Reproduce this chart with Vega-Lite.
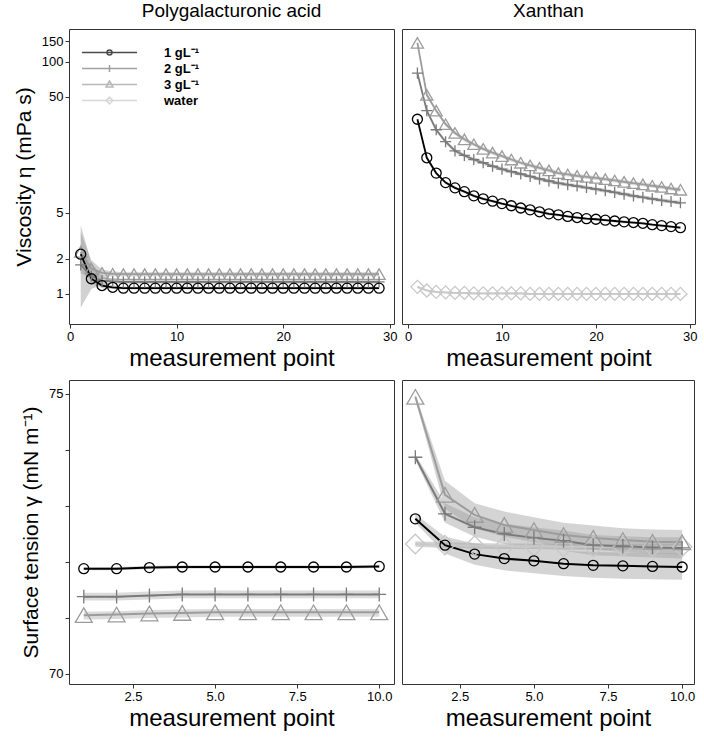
{
  "$schema": "https://vega.github.io/schema/vega-lite/v6.json",
  "background": "white",
  "padding": {"left": 12, "top": 1, "right": 4, "bottom": 3},
  "config": {
    "view": {"stroke": "#333333", "strokeWidth": 1},
    "axis": {"grid": false, "domain": false, "tickColor": "#333333", "tickSize": 4, "labelPadding": 2,
      "labelColor": "#000000", "labelFont": "Liberation Sans", "labelFontSize": 13,
      "titleFont": "Liberation Sans", "titleFontWeight": "normal", "titleColor": "#000000"},
    "axisX": {"titleFontSize": 24, "titlePadding": 3},
    "axisY": {"titleFontSize": 21, "titlePadding": 7},
    "title": {"font": "Liberation Sans", "fontSize": 19, "fontWeight": "normal", "color": "#000000", "anchor": "middle", "offset": 8},
    "concat": {"spacing": 8}
  },
  "datasets": {
    "visc": [
      {"material": "PGA", "conc": "3 gL⁻¹", "point": 1, "value": 2.3, "lo": 1.5, "hi": 3.4},
      {"material": "PGA", "conc": "3 gL⁻¹", "point": 2, "value": 1.65, "lo": 1.4, "hi": 1.95},
      {"material": "PGA", "conc": "3 gL⁻¹", "point": 3, "value": 1.52, "lo": 1.4, "hi": 1.62},
      {"material": "PGA", "conc": "3 gL⁻¹", "point": 4, "value": 1.49, "lo": 1.42, "hi": 1.56},
      {"material": "PGA", "conc": "3 gL⁻¹", "point": 5, "value": 1.48, "lo": 1.42, "hi": 1.54},
      {"material": "PGA", "conc": "3 gL⁻¹", "point": 6, "value": 1.48, "lo": 1.42, "hi": 1.54},
      {"material": "PGA", "conc": "3 gL⁻¹", "point": 7, "value": 1.48, "lo": 1.42, "hi": 1.54},
      {"material": "PGA", "conc": "3 gL⁻¹", "point": 8, "value": 1.48, "lo": 1.42, "hi": 1.54},
      {"material": "PGA", "conc": "3 gL⁻¹", "point": 9, "value": 1.48, "lo": 1.42, "hi": 1.54},
      {"material": "PGA", "conc": "3 gL⁻¹", "point": 10, "value": 1.48, "lo": 1.42, "hi": 1.54},
      {"material": "PGA", "conc": "3 gL⁻¹", "point": 11, "value": 1.48, "lo": 1.42, "hi": 1.54},
      {"material": "PGA", "conc": "3 gL⁻¹", "point": 12, "value": 1.48, "lo": 1.42, "hi": 1.54},
      {"material": "PGA", "conc": "3 gL⁻¹", "point": 13, "value": 1.48, "lo": 1.42, "hi": 1.54},
      {"material": "PGA", "conc": "3 gL⁻¹", "point": 14, "value": 1.48, "lo": 1.42, "hi": 1.54},
      {"material": "PGA", "conc": "3 gL⁻¹", "point": 15, "value": 1.48, "lo": 1.42, "hi": 1.54},
      {"material": "PGA", "conc": "3 gL⁻¹", "point": 16, "value": 1.48, "lo": 1.42, "hi": 1.54},
      {"material": "PGA", "conc": "3 gL⁻¹", "point": 17, "value": 1.48, "lo": 1.42, "hi": 1.54},
      {"material": "PGA", "conc": "3 gL⁻¹", "point": 18, "value": 1.48, "lo": 1.42, "hi": 1.54},
      {"material": "PGA", "conc": "3 gL⁻¹", "point": 19, "value": 1.48, "lo": 1.42, "hi": 1.54},
      {"material": "PGA", "conc": "3 gL⁻¹", "point": 20, "value": 1.48, "lo": 1.42, "hi": 1.54},
      {"material": "PGA", "conc": "3 gL⁻¹", "point": 21, "value": 1.48, "lo": 1.42, "hi": 1.54},
      {"material": "PGA", "conc": "3 gL⁻¹", "point": 22, "value": 1.48, "lo": 1.42, "hi": 1.54},
      {"material": "PGA", "conc": "3 gL⁻¹", "point": 23, "value": 1.48, "lo": 1.42, "hi": 1.54},
      {"material": "PGA", "conc": "3 gL⁻¹", "point": 24, "value": 1.48, "lo": 1.42, "hi": 1.54},
      {"material": "PGA", "conc": "3 gL⁻¹", "point": 25, "value": 1.48, "lo": 1.42, "hi": 1.54},
      {"material": "PGA", "conc": "3 gL⁻¹", "point": 26, "value": 1.48, "lo": 1.42, "hi": 1.54},
      {"material": "PGA", "conc": "3 gL⁻¹", "point": 27, "value": 1.48, "lo": 1.42, "hi": 1.54},
      {"material": "PGA", "conc": "3 gL⁻¹", "point": 28, "value": 1.48, "lo": 1.42, "hi": 1.54},
      {"material": "PGA", "conc": "3 gL⁻¹", "point": 29, "value": 1.48, "lo": 1.42, "hi": 1.54},
      {"material": "PGA", "conc": "2 gL⁻¹", "point": 1, "value": 1.78, "lo": 0.76, "hi": 3.9},
      {"material": "PGA", "conc": "2 gL⁻¹", "point": 2, "value": 1.42, "lo": 1.1, "hi": 1.85},
      {"material": "PGA", "conc": "2 gL⁻¹", "point": 3, "value": 1.3, "lo": 1.2, "hi": 1.42},
      {"material": "PGA", "conc": "2 gL⁻¹", "point": 4, "value": 1.28, "lo": 1.22, "hi": 1.34},
      {"material": "PGA", "conc": "2 gL⁻¹", "point": 5, "value": 1.27, "lo": 1.22, "hi": 1.32},
      {"material": "PGA", "conc": "2 gL⁻¹", "point": 6, "value": 1.27, "lo": 1.22, "hi": 1.32},
      {"material": "PGA", "conc": "2 gL⁻¹", "point": 7, "value": 1.27, "lo": 1.22, "hi": 1.32},
      {"material": "PGA", "conc": "2 gL⁻¹", "point": 8, "value": 1.27, "lo": 1.22, "hi": 1.32},
      {"material": "PGA", "conc": "2 gL⁻¹", "point": 9, "value": 1.27, "lo": 1.22, "hi": 1.32},
      {"material": "PGA", "conc": "2 gL⁻¹", "point": 10, "value": 1.27, "lo": 1.22, "hi": 1.32},
      {"material": "PGA", "conc": "2 gL⁻¹", "point": 11, "value": 1.27, "lo": 1.22, "hi": 1.32},
      {"material": "PGA", "conc": "2 gL⁻¹", "point": 12, "value": 1.27, "lo": 1.22, "hi": 1.32},
      {"material": "PGA", "conc": "2 gL⁻¹", "point": 13, "value": 1.27, "lo": 1.22, "hi": 1.32},
      {"material": "PGA", "conc": "2 gL⁻¹", "point": 14, "value": 1.27, "lo": 1.22, "hi": 1.32},
      {"material": "PGA", "conc": "2 gL⁻¹", "point": 15, "value": 1.27, "lo": 1.22, "hi": 1.32},
      {"material": "PGA", "conc": "2 gL⁻¹", "point": 16, "value": 1.27, "lo": 1.22, "hi": 1.32},
      {"material": "PGA", "conc": "2 gL⁻¹", "point": 17, "value": 1.27, "lo": 1.22, "hi": 1.32},
      {"material": "PGA", "conc": "2 gL⁻¹", "point": 18, "value": 1.27, "lo": 1.22, "hi": 1.32},
      {"material": "PGA", "conc": "2 gL⁻¹", "point": 19, "value": 1.27, "lo": 1.22, "hi": 1.32},
      {"material": "PGA", "conc": "2 gL⁻¹", "point": 20, "value": 1.27, "lo": 1.22, "hi": 1.32},
      {"material": "PGA", "conc": "2 gL⁻¹", "point": 21, "value": 1.27, "lo": 1.22, "hi": 1.32},
      {"material": "PGA", "conc": "2 gL⁻¹", "point": 22, "value": 1.27, "lo": 1.22, "hi": 1.32},
      {"material": "PGA", "conc": "2 gL⁻¹", "point": 23, "value": 1.27, "lo": 1.22, "hi": 1.32},
      {"material": "PGA", "conc": "2 gL⁻¹", "point": 24, "value": 1.27, "lo": 1.22, "hi": 1.32},
      {"material": "PGA", "conc": "2 gL⁻¹", "point": 25, "value": 1.27, "lo": 1.22, "hi": 1.32},
      {"material": "PGA", "conc": "2 gL⁻¹", "point": 26, "value": 1.27, "lo": 1.22, "hi": 1.32},
      {"material": "PGA", "conc": "2 gL⁻¹", "point": 27, "value": 1.27, "lo": 1.22, "hi": 1.32},
      {"material": "PGA", "conc": "2 gL⁻¹", "point": 28, "value": 1.27, "lo": 1.22, "hi": 1.32},
      {"material": "PGA", "conc": "2 gL⁻¹", "point": 29, "value": 1.27, "lo": 1.22, "hi": 1.32},
      {"material": "PGA", "conc": "1 gL⁻¹", "point": 1, "value": 2.2, "lo": 1.8, "hi": 2.7},
      {"material": "PGA", "conc": "1 gL⁻¹", "point": 2, "value": 1.35, "lo": 1.22, "hi": 1.5},
      {"material": "PGA", "conc": "1 gL⁻¹", "point": 3, "value": 1.18, "lo": 1.12, "hi": 1.25},
      {"material": "PGA", "conc": "1 gL⁻¹", "point": 4, "value": 1.14, "lo": 1.1, "hi": 1.18},
      {"material": "PGA", "conc": "1 gL⁻¹", "point": 5, "value": 1.12, "lo": 1.09, "hi": 1.15},
      {"material": "PGA", "conc": "1 gL⁻¹", "point": 6, "value": 1.12, "lo": 1.09, "hi": 1.15},
      {"material": "PGA", "conc": "1 gL⁻¹", "point": 7, "value": 1.12, "lo": 1.09, "hi": 1.15},
      {"material": "PGA", "conc": "1 gL⁻¹", "point": 8, "value": 1.12, "lo": 1.09, "hi": 1.15},
      {"material": "PGA", "conc": "1 gL⁻¹", "point": 9, "value": 1.12, "lo": 1.09, "hi": 1.15},
      {"material": "PGA", "conc": "1 gL⁻¹", "point": 10, "value": 1.12, "lo": 1.09, "hi": 1.15},
      {"material": "PGA", "conc": "1 gL⁻¹", "point": 11, "value": 1.12, "lo": 1.09, "hi": 1.15},
      {"material": "PGA", "conc": "1 gL⁻¹", "point": 12, "value": 1.12, "lo": 1.09, "hi": 1.15},
      {"material": "PGA", "conc": "1 gL⁻¹", "point": 13, "value": 1.12, "lo": 1.09, "hi": 1.15},
      {"material": "PGA", "conc": "1 gL⁻¹", "point": 14, "value": 1.12, "lo": 1.09, "hi": 1.15},
      {"material": "PGA", "conc": "1 gL⁻¹", "point": 15, "value": 1.12, "lo": 1.09, "hi": 1.15},
      {"material": "PGA", "conc": "1 gL⁻¹", "point": 16, "value": 1.12, "lo": 1.09, "hi": 1.15},
      {"material": "PGA", "conc": "1 gL⁻¹", "point": 17, "value": 1.12, "lo": 1.09, "hi": 1.15},
      {"material": "PGA", "conc": "1 gL⁻¹", "point": 18, "value": 1.12, "lo": 1.09, "hi": 1.15},
      {"material": "PGA", "conc": "1 gL⁻¹", "point": 19, "value": 1.12, "lo": 1.09, "hi": 1.15},
      {"material": "PGA", "conc": "1 gL⁻¹", "point": 20, "value": 1.12, "lo": 1.09, "hi": 1.15},
      {"material": "PGA", "conc": "1 gL⁻¹", "point": 21, "value": 1.12, "lo": 1.09, "hi": 1.15},
      {"material": "PGA", "conc": "1 gL⁻¹", "point": 22, "value": 1.12, "lo": 1.09, "hi": 1.15},
      {"material": "PGA", "conc": "1 gL⁻¹", "point": 23, "value": 1.12, "lo": 1.09, "hi": 1.15},
      {"material": "PGA", "conc": "1 gL⁻¹", "point": 24, "value": 1.12, "lo": 1.09, "hi": 1.15},
      {"material": "PGA", "conc": "1 gL⁻¹", "point": 25, "value": 1.12, "lo": 1.09, "hi": 1.15},
      {"material": "PGA", "conc": "1 gL⁻¹", "point": 26, "value": 1.12, "lo": 1.09, "hi": 1.15},
      {"material": "PGA", "conc": "1 gL⁻¹", "point": 27, "value": 1.12, "lo": 1.09, "hi": 1.15},
      {"material": "PGA", "conc": "1 gL⁻¹", "point": 28, "value": 1.12, "lo": 1.09, "hi": 1.15},
      {"material": "PGA", "conc": "1 gL⁻¹", "point": 29, "value": 1.12, "lo": 1.09, "hi": 1.15},
      {"material": "Xanthan", "conc": "water", "point": 1, "value": 1.15, "lo": 1.12, "hi": 1.18},
      {"material": "Xanthan", "conc": "water", "point": 2, "value": 1.07, "lo": 1.05, "hi": 1.09},
      {"material": "Xanthan", "conc": "water", "point": 3, "value": 1.04, "lo": 1.02, "hi": 1.06},
      {"material": "Xanthan", "conc": "water", "point": 4, "value": 1.03, "lo": 1.01, "hi": 1.05},
      {"material": "Xanthan", "conc": "water", "point": 5, "value": 1.02, "lo": 1.0, "hi": 1.04},
      {"material": "Xanthan", "conc": "water", "point": 6, "value": 1.02, "lo": 1.0, "hi": 1.04},
      {"material": "Xanthan", "conc": "water", "point": 7, "value": 1.01, "lo": 0.99, "hi": 1.03},
      {"material": "Xanthan", "conc": "water", "point": 8, "value": 1.01, "lo": 0.99, "hi": 1.03},
      {"material": "Xanthan", "conc": "water", "point": 9, "value": 1.01, "lo": 0.99, "hi": 1.03},
      {"material": "Xanthan", "conc": "water", "point": 10, "value": 1.01, "lo": 0.99, "hi": 1.03},
      {"material": "Xanthan", "conc": "water", "point": 11, "value": 1.01, "lo": 0.99, "hi": 1.03},
      {"material": "Xanthan", "conc": "water", "point": 12, "value": 1.01, "lo": 0.99, "hi": 1.03},
      {"material": "Xanthan", "conc": "water", "point": 13, "value": 1.0, "lo": 0.98, "hi": 1.02},
      {"material": "Xanthan", "conc": "water", "point": 14, "value": 1.0, "lo": 0.98, "hi": 1.02},
      {"material": "Xanthan", "conc": "water", "point": 15, "value": 1.0, "lo": 0.98, "hi": 1.02},
      {"material": "Xanthan", "conc": "water", "point": 16, "value": 1.0, "lo": 0.98, "hi": 1.02},
      {"material": "Xanthan", "conc": "water", "point": 17, "value": 1.0, "lo": 0.98, "hi": 1.02},
      {"material": "Xanthan", "conc": "water", "point": 18, "value": 1.0, "lo": 0.98, "hi": 1.02},
      {"material": "Xanthan", "conc": "water", "point": 19, "value": 1.0, "lo": 0.98, "hi": 1.02},
      {"material": "Xanthan", "conc": "water", "point": 20, "value": 1.0, "lo": 0.98, "hi": 1.02},
      {"material": "Xanthan", "conc": "water", "point": 21, "value": 1.0, "lo": 0.98, "hi": 1.02},
      {"material": "Xanthan", "conc": "water", "point": 22, "value": 1.0, "lo": 0.98, "hi": 1.02},
      {"material": "Xanthan", "conc": "water", "point": 23, "value": 1.0, "lo": 0.98, "hi": 1.02},
      {"material": "Xanthan", "conc": "water", "point": 24, "value": 1.0, "lo": 0.98, "hi": 1.02},
      {"material": "Xanthan", "conc": "water", "point": 25, "value": 1.0, "lo": 0.98, "hi": 1.02},
      {"material": "Xanthan", "conc": "water", "point": 26, "value": 1.0, "lo": 0.98, "hi": 1.02},
      {"material": "Xanthan", "conc": "water", "point": 27, "value": 1.0, "lo": 0.98, "hi": 1.02},
      {"material": "Xanthan", "conc": "water", "point": 28, "value": 1.0, "lo": 0.98, "hi": 1.02},
      {"material": "Xanthan", "conc": "water", "point": 29, "value": 1.0, "lo": 0.98, "hi": 1.02},
      {"material": "Xanthan", "conc": "3 gL⁻¹", "point": 1, "value": 146, "lo": 140.2, "hi": 151.8},
      {"material": "Xanthan", "conc": "3 gL⁻¹", "point": 2, "value": 52, "lo": 49.9, "hi": 54.1},
      {"material": "Xanthan", "conc": "3 gL⁻¹", "point": 3, "value": 38, "lo": 36.5, "hi": 39.5},
      {"material": "Xanthan", "conc": "3 gL⁻¹", "point": 4, "value": 29, "lo": 27.8, "hi": 30.2},
      {"material": "Xanthan", "conc": "3 gL⁻¹", "point": 5, "value": 24.4, "lo": 23.4, "hi": 25.4},
      {"material": "Xanthan", "conc": "3 gL⁻¹", "point": 6, "value": 21.5, "lo": 20.6, "hi": 22.4},
      {"material": "Xanthan", "conc": "3 gL⁻¹", "point": 7, "value": 19.5, "lo": 18.7, "hi": 20.3},
      {"material": "Xanthan", "conc": "3 gL⁻¹", "point": 8, "value": 17.8, "lo": 17.1, "hi": 18.5},
      {"material": "Xanthan", "conc": "3 gL⁻¹", "point": 9, "value": 16.5, "lo": 15.8, "hi": 17.2},
      {"material": "Xanthan", "conc": "3 gL⁻¹", "point": 10, "value": 15.4, "lo": 14.8, "hi": 16.0},
      {"material": "Xanthan", "conc": "3 gL⁻¹", "point": 11, "value": 14.4, "lo": 13.8, "hi": 15.0},
      {"material": "Xanthan", "conc": "3 gL⁻¹", "point": 12, "value": 13.5, "lo": 13.0, "hi": 14.0},
      {"material": "Xanthan", "conc": "3 gL⁻¹", "point": 13, "value": 12.8, "lo": 12.3, "hi": 13.3},
      {"material": "Xanthan", "conc": "3 gL⁻¹", "point": 14, "value": 12.2, "lo": 11.7, "hi": 12.7},
      {"material": "Xanthan", "conc": "3 gL⁻¹", "point": 15, "value": 11.6, "lo": 11.1, "hi": 12.1},
      {"material": "Xanthan", "conc": "3 gL⁻¹", "point": 16, "value": 11.0, "lo": 10.6, "hi": 11.4},
      {"material": "Xanthan", "conc": "3 gL⁻¹", "point": 17, "value": 10.7, "lo": 10.3, "hi": 11.1},
      {"material": "Xanthan", "conc": "3 gL⁻¹", "point": 18, "value": 10.4, "lo": 10.0, "hi": 10.8},
      {"material": "Xanthan", "conc": "3 gL⁻¹", "point": 19, "value": 10.2, "lo": 9.8, "hi": 10.6},
      {"material": "Xanthan", "conc": "3 gL⁻¹", "point": 20, "value": 10.0, "lo": 9.6, "hi": 10.4},
      {"material": "Xanthan", "conc": "3 gL⁻¹", "point": 21, "value": 9.75, "lo": 9.36, "hi": 10.14},
      {"material": "Xanthan", "conc": "3 gL⁻¹", "point": 22, "value": 9.5, "lo": 9.12, "hi": 9.88},
      {"material": "Xanthan", "conc": "3 gL⁻¹", "point": 23, "value": 9.25, "lo": 8.88, "hi": 9.62},
      {"material": "Xanthan", "conc": "3 gL⁻¹", "point": 24, "value": 9.0, "lo": 8.64, "hi": 9.36},
      {"material": "Xanthan", "conc": "3 gL⁻¹", "point": 25, "value": 8.8, "lo": 8.45, "hi": 9.15},
      {"material": "Xanthan", "conc": "3 gL⁻¹", "point": 26, "value": 8.55, "lo": 8.21, "hi": 8.89},
      {"material": "Xanthan", "conc": "3 gL⁻¹", "point": 27, "value": 8.35, "lo": 8.02, "hi": 8.68},
      {"material": "Xanthan", "conc": "3 gL⁻¹", "point": 28, "value": 8.1, "lo": 7.78, "hi": 8.42},
      {"material": "Xanthan", "conc": "3 gL⁻¹", "point": 29, "value": 7.9, "lo": 7.58, "hi": 8.22},
      {"material": "Xanthan", "conc": "2 gL⁻¹", "point": 1, "value": 80, "lo": 76.8, "hi": 83.2},
      {"material": "Xanthan", "conc": "2 gL⁻¹", "point": 2, "value": 38, "lo": 36.5, "hi": 39.5},
      {"material": "Xanthan", "conc": "2 gL⁻¹", "point": 3, "value": 26, "lo": 25.0, "hi": 27.0},
      {"material": "Xanthan", "conc": "2 gL⁻¹", "point": 4, "value": 20.5, "lo": 19.7, "hi": 21.3},
      {"material": "Xanthan", "conc": "2 gL⁻¹", "point": 5, "value": 17.1, "lo": 16.4, "hi": 17.8},
      {"material": "Xanthan", "conc": "2 gL⁻¹", "point": 6, "value": 15.6, "lo": 15.0, "hi": 16.2},
      {"material": "Xanthan", "conc": "2 gL⁻¹", "point": 7, "value": 14.4, "lo": 13.8, "hi": 15.0},
      {"material": "Xanthan", "conc": "2 gL⁻¹", "point": 8, "value": 13.5, "lo": 13.0, "hi": 14.0},
      {"material": "Xanthan", "conc": "2 gL⁻¹", "point": 9, "value": 12.6, "lo": 12.1, "hi": 13.1},
      {"material": "Xanthan", "conc": "2 gL⁻¹", "point": 10, "value": 11.9, "lo": 11.4, "hi": 12.4},
      {"material": "Xanthan", "conc": "2 gL⁻¹", "point": 11, "value": 11.3, "lo": 10.8, "hi": 11.8},
      {"material": "Xanthan", "conc": "2 gL⁻¹", "point": 12, "value": 10.8, "lo": 10.4, "hi": 11.2},
      {"material": "Xanthan", "conc": "2 gL⁻¹", "point": 13, "value": 10.3, "lo": 9.9, "hi": 10.7},
      {"material": "Xanthan", "conc": "2 gL⁻¹", "point": 14, "value": 9.8, "lo": 9.4, "hi": 10.2},
      {"material": "Xanthan", "conc": "2 gL⁻¹", "point": 15, "value": 9.4, "lo": 9.0, "hi": 9.8},
      {"material": "Xanthan", "conc": "2 gL⁻¹", "point": 16, "value": 9.0, "lo": 8.64, "hi": 9.36},
      {"material": "Xanthan", "conc": "2 gL⁻¹", "point": 17, "value": 8.75, "lo": 8.4, "hi": 9.1},
      {"material": "Xanthan", "conc": "2 gL⁻¹", "point": 18, "value": 8.5, "lo": 8.16, "hi": 8.84},
      {"material": "Xanthan", "conc": "2 gL⁻¹", "point": 19, "value": 8.25, "lo": 7.92, "hi": 8.58},
      {"material": "Xanthan", "conc": "2 gL⁻¹", "point": 20, "value": 8.0, "lo": 7.68, "hi": 8.32},
      {"material": "Xanthan", "conc": "2 gL⁻¹", "point": 21, "value": 7.75, "lo": 7.44, "hi": 8.06},
      {"material": "Xanthan", "conc": "2 gL⁻¹", "point": 22, "value": 7.5, "lo": 7.2, "hi": 7.8},
      {"material": "Xanthan", "conc": "2 gL⁻¹", "point": 23, "value": 7.25, "lo": 6.96, "hi": 7.54},
      {"material": "Xanthan", "conc": "2 gL⁻¹", "point": 24, "value": 7.0, "lo": 6.72, "hi": 7.28},
      {"material": "Xanthan", "conc": "2 gL⁻¹", "point": 25, "value": 6.8, "lo": 6.53, "hi": 7.07},
      {"material": "Xanthan", "conc": "2 gL⁻¹", "point": 26, "value": 6.6, "lo": 6.34, "hi": 6.86},
      {"material": "Xanthan", "conc": "2 gL⁻¹", "point": 27, "value": 6.4, "lo": 6.14, "hi": 6.66},
      {"material": "Xanthan", "conc": "2 gL⁻¹", "point": 28, "value": 6.25, "lo": 6.0, "hi": 6.5},
      {"material": "Xanthan", "conc": "2 gL⁻¹", "point": 29, "value": 6.1, "lo": 5.86, "hi": 6.34},
      {"material": "Xanthan", "conc": "1 gL⁻¹", "point": 1, "value": 32, "lo": 31.0, "hi": 33.0},
      {"material": "Xanthan", "conc": "1 gL⁻¹", "point": 2, "value": 14.9, "lo": 14.5, "hi": 15.3},
      {"material": "Xanthan", "conc": "1 gL⁻¹", "point": 3, "value": 11, "lo": 10.7, "hi": 11.3},
      {"material": "Xanthan", "conc": "1 gL⁻¹", "point": 4, "value": 9.1, "lo": 8.8, "hi": 9.4},
      {"material": "Xanthan", "conc": "1 gL⁻¹", "point": 5, "value": 8.2, "lo": 7.95, "hi": 8.45},
      {"material": "Xanthan", "conc": "1 gL⁻¹", "point": 6, "value": 7.6, "lo": 7.37, "hi": 7.83},
      {"material": "Xanthan", "conc": "1 gL⁻¹", "point": 7, "value": 7.0, "lo": 6.79, "hi": 7.21},
      {"material": "Xanthan", "conc": "1 gL⁻¹", "point": 8, "value": 6.6, "lo": 6.4, "hi": 6.8},
      {"material": "Xanthan", "conc": "1 gL⁻¹", "point": 9, "value": 6.3, "lo": 6.11, "hi": 6.49},
      {"material": "Xanthan", "conc": "1 gL⁻¹", "point": 10, "value": 6.0, "lo": 5.82, "hi": 6.18},
      {"material": "Xanthan", "conc": "1 gL⁻¹", "point": 11, "value": 5.75, "lo": 5.58, "hi": 5.92},
      {"material": "Xanthan", "conc": "1 gL⁻¹", "point": 12, "value": 5.5, "lo": 5.34, "hi": 5.67},
      {"material": "Xanthan", "conc": "1 gL⁻¹", "point": 13, "value": 5.3, "lo": 5.14, "hi": 5.46},
      {"material": "Xanthan", "conc": "1 gL⁻¹", "point": 14, "value": 5.1, "lo": 4.95, "hi": 5.25},
      {"material": "Xanthan", "conc": "1 gL⁻¹", "point": 15, "value": 4.9, "lo": 4.75, "hi": 5.05},
      {"material": "Xanthan", "conc": "1 gL⁻¹", "point": 16, "value": 4.8, "lo": 4.66, "hi": 4.94},
      {"material": "Xanthan", "conc": "1 gL⁻¹", "point": 17, "value": 4.65, "lo": 4.51, "hi": 4.79},
      {"material": "Xanthan", "conc": "1 gL⁻¹", "point": 18, "value": 4.55, "lo": 4.41, "hi": 4.69},
      {"material": "Xanthan", "conc": "1 gL⁻¹", "point": 19, "value": 4.45, "lo": 4.32, "hi": 4.58},
      {"material": "Xanthan", "conc": "1 gL⁻¹", "point": 20, "value": 4.4, "lo": 4.27, "hi": 4.53},
      {"material": "Xanthan", "conc": "1 gL⁻¹", "point": 21, "value": 4.32, "lo": 4.19, "hi": 4.45},
      {"material": "Xanthan", "conc": "1 gL⁻¹", "point": 22, "value": 4.25, "lo": 4.12, "hi": 4.38},
      {"material": "Xanthan", "conc": "1 gL⁻¹", "point": 23, "value": 4.18, "lo": 4.05, "hi": 4.31},
      {"material": "Xanthan", "conc": "1 gL⁻¹", "point": 24, "value": 4.12, "lo": 4.0, "hi": 4.24},
      {"material": "Xanthan", "conc": "1 gL⁻¹", "point": 25, "value": 4.06, "lo": 3.94, "hi": 4.18},
      {"material": "Xanthan", "conc": "1 gL⁻¹", "point": 26, "value": 3.95, "lo": 3.83, "hi": 4.07},
      {"material": "Xanthan", "conc": "1 gL⁻¹", "point": 27, "value": 3.88, "lo": 3.76, "hi": 4.0},
      {"material": "Xanthan", "conc": "1 gL⁻¹", "point": 28, "value": 3.8, "lo": 3.69, "hi": 3.91},
      {"material": "Xanthan", "conc": "1 gL⁻¹", "point": 29, "value": 3.72, "lo": 3.61, "hi": 3.83}
    ],
    "tension": [
      {"material": "PGA", "conc": "3 gL⁻¹", "point": 1, "value": 71.05, "lo": 70.97, "hi": 71.11},
      {"material": "PGA", "conc": "3 gL⁻¹", "point": 2, "value": 71.06, "lo": 70.98, "hi": 71.12},
      {"material": "PGA", "conc": "3 gL⁻¹", "point": 3, "value": 71.08, "lo": 71.0, "hi": 71.14},
      {"material": "PGA", "conc": "3 gL⁻¹", "point": 4, "value": 71.09, "lo": 71.01, "hi": 71.15},
      {"material": "PGA", "conc": "3 gL⁻¹", "point": 5, "value": 71.1, "lo": 71.02, "hi": 71.16},
      {"material": "PGA", "conc": "3 gL⁻¹", "point": 6, "value": 71.1, "lo": 71.02, "hi": 71.16},
      {"material": "PGA", "conc": "3 gL⁻¹", "point": 7, "value": 71.1, "lo": 71.02, "hi": 71.16},
      {"material": "PGA", "conc": "3 gL⁻¹", "point": 8, "value": 71.1, "lo": 71.02, "hi": 71.16},
      {"material": "PGA", "conc": "3 gL⁻¹", "point": 9, "value": 71.1, "lo": 71.02, "hi": 71.16},
      {"material": "PGA", "conc": "3 gL⁻¹", "point": 10, "value": 71.1, "lo": 71.02, "hi": 71.16},
      {"material": "PGA", "conc": "2 gL⁻¹", "point": 1, "value": 71.38, "lo": 71.31, "hi": 71.45},
      {"material": "PGA", "conc": "2 gL⁻¹", "point": 2, "value": 71.38, "lo": 71.31, "hi": 71.45},
      {"material": "PGA", "conc": "2 gL⁻¹", "point": 3, "value": 71.4, "lo": 71.33, "hi": 71.47},
      {"material": "PGA", "conc": "2 gL⁻¹", "point": 4, "value": 71.42, "lo": 71.35, "hi": 71.49},
      {"material": "PGA", "conc": "2 gL⁻¹", "point": 5, "value": 71.42, "lo": 71.35, "hi": 71.49},
      {"material": "PGA", "conc": "2 gL⁻¹", "point": 6, "value": 71.42, "lo": 71.35, "hi": 71.49},
      {"material": "PGA", "conc": "2 gL⁻¹", "point": 7, "value": 71.42, "lo": 71.35, "hi": 71.49},
      {"material": "PGA", "conc": "2 gL⁻¹", "point": 8, "value": 71.42, "lo": 71.35, "hi": 71.49},
      {"material": "PGA", "conc": "2 gL⁻¹", "point": 9, "value": 71.42, "lo": 71.35, "hi": 71.49},
      {"material": "PGA", "conc": "2 gL⁻¹", "point": 10, "value": 71.42, "lo": 71.35, "hi": 71.49},
      {"material": "PGA", "conc": "1 gL⁻¹", "point": 1, "value": 71.88, "lo": 71.85, "hi": 71.91},
      {"material": "PGA", "conc": "1 gL⁻¹", "point": 2, "value": 71.88, "lo": 71.85, "hi": 71.91},
      {"material": "PGA", "conc": "1 gL⁻¹", "point": 3, "value": 71.9, "lo": 71.87, "hi": 71.93},
      {"material": "PGA", "conc": "1 gL⁻¹", "point": 4, "value": 71.91, "lo": 71.88, "hi": 71.94},
      {"material": "PGA", "conc": "1 gL⁻¹", "point": 5, "value": 71.91, "lo": 71.88, "hi": 71.94},
      {"material": "PGA", "conc": "1 gL⁻¹", "point": 6, "value": 71.91, "lo": 71.88, "hi": 71.94},
      {"material": "PGA", "conc": "1 gL⁻¹", "point": 7, "value": 71.91, "lo": 71.88, "hi": 71.94},
      {"material": "PGA", "conc": "1 gL⁻¹", "point": 8, "value": 71.91, "lo": 71.88, "hi": 71.94},
      {"material": "PGA", "conc": "1 gL⁻¹", "point": 9, "value": 71.91, "lo": 71.88, "hi": 71.94},
      {"material": "PGA", "conc": "1 gL⁻¹", "point": 10, "value": 71.92, "lo": 71.89, "hi": 71.95},
      {"material": "Xanthan", "conc": "water", "point": 1, "value": 72.32, "lo": 72.27, "hi": 72.37},
      {"material": "Xanthan", "conc": "water", "point": 2, "value": 72.3, "lo": 72.25, "hi": 72.35},
      {"material": "Xanthan", "conc": "water", "point": 3, "value": 72.29, "lo": 72.24, "hi": 72.34},
      {"material": "Xanthan", "conc": "water", "point": 4, "value": 72.28, "lo": 72.23, "hi": 72.33},
      {"material": "Xanthan", "conc": "water", "point": 5, "value": 72.28, "lo": 72.23, "hi": 72.33},
      {"material": "Xanthan", "conc": "water", "point": 6, "value": 72.27, "lo": 72.22, "hi": 72.32},
      {"material": "Xanthan", "conc": "water", "point": 7, "value": 72.27, "lo": 72.22, "hi": 72.32},
      {"material": "Xanthan", "conc": "water", "point": 8, "value": 72.27, "lo": 72.22, "hi": 72.32},
      {"material": "Xanthan", "conc": "water", "point": 9, "value": 72.27, "lo": 72.22, "hi": 72.32},
      {"material": "Xanthan", "conc": "water", "point": 10, "value": 72.27, "lo": 72.22, "hi": 72.32},
      {"material": "Xanthan", "conc": "3 gL⁻¹", "point": 1, "value": 74.95, "lo": 74.9, "hi": 75.0},
      {"material": "Xanthan", "conc": "3 gL⁻¹", "point": 2, "value": 73.2, "lo": 72.95, "hi": 73.45},
      {"material": "Xanthan", "conc": "3 gL⁻¹", "point": 3, "value": 72.84, "lo": 72.6, "hi": 73.05},
      {"material": "Xanthan", "conc": "3 gL⁻¹", "point": 4, "value": 72.66, "lo": 72.45, "hi": 72.9},
      {"material": "Xanthan", "conc": "3 gL⁻¹", "point": 5, "value": 72.57, "lo": 72.35, "hi": 72.8},
      {"material": "Xanthan", "conc": "3 gL⁻¹", "point": 6, "value": 72.48, "lo": 72.27, "hi": 72.7},
      {"material": "Xanthan", "conc": "3 gL⁻¹", "point": 7, "value": 72.43, "lo": 72.22, "hi": 72.65},
      {"material": "Xanthan", "conc": "3 gL⁻¹", "point": 8, "value": 72.39, "lo": 72.18, "hi": 72.6},
      {"material": "Xanthan", "conc": "3 gL⁻¹", "point": 9, "value": 72.36, "lo": 72.15, "hi": 72.58},
      {"material": "Xanthan", "conc": "3 gL⁻¹", "point": 10, "value": 72.35, "lo": 72.13, "hi": 72.57},
      {"material": "Xanthan", "conc": "2 gL⁻¹", "point": 1, "value": 73.87, "lo": 73.82, "hi": 73.92},
      {"material": "Xanthan", "conc": "2 gL⁻¹", "point": 2, "value": 72.86, "lo": 72.7, "hi": 73.05},
      {"material": "Xanthan", "conc": "2 gL⁻¹", "point": 3, "value": 72.62, "lo": 72.45, "hi": 72.8},
      {"material": "Xanthan", "conc": "2 gL⁻¹", "point": 4, "value": 72.5, "lo": 72.32, "hi": 72.68},
      {"material": "Xanthan", "conc": "2 gL⁻¹", "point": 5, "value": 72.43, "lo": 72.25, "hi": 72.62},
      {"material": "Xanthan", "conc": "2 gL⁻¹", "point": 6, "value": 72.38, "lo": 72.2, "hi": 72.56},
      {"material": "Xanthan", "conc": "2 gL⁻¹", "point": 7, "value": 72.3, "lo": 72.12, "hi": 72.48},
      {"material": "Xanthan", "conc": "2 gL⁻¹", "point": 8, "value": 72.28, "lo": 72.1, "hi": 72.46},
      {"material": "Xanthan", "conc": "2 gL⁻¹", "point": 9, "value": 72.26, "lo": 72.08, "hi": 72.44},
      {"material": "Xanthan", "conc": "2 gL⁻¹", "point": 10, "value": 72.25, "lo": 72.06, "hi": 72.44},
      {"material": "Xanthan", "conc": "1 gL⁻¹", "point": 1, "value": 72.77, "lo": 72.7, "hi": 72.85},
      {"material": "Xanthan", "conc": "1 gL⁻¹", "point": 2, "value": 72.3, "lo": 72.15, "hi": 72.45},
      {"material": "Xanthan", "conc": "1 gL⁻¹", "point": 3, "value": 72.14, "lo": 71.95, "hi": 72.33},
      {"material": "Xanthan", "conc": "1 gL⁻¹", "point": 4, "value": 72.06, "lo": 71.85, "hi": 72.27},
      {"material": "Xanthan", "conc": "1 gL⁻¹", "point": 5, "value": 72.02, "lo": 71.8, "hi": 72.25},
      {"material": "Xanthan", "conc": "1 gL⁻¹", "point": 6, "value": 71.97, "lo": 71.75, "hi": 72.2},
      {"material": "Xanthan", "conc": "1 gL⁻¹", "point": 7, "value": 71.94, "lo": 71.72, "hi": 72.18},
      {"material": "Xanthan", "conc": "1 gL⁻¹", "point": 8, "value": 71.93, "lo": 71.7, "hi": 72.17},
      {"material": "Xanthan", "conc": "1 gL⁻¹", "point": 9, "value": 71.92, "lo": 71.69, "hi": 72.16},
      {"material": "Xanthan", "conc": "1 gL⁻¹", "point": 10, "value": 71.91, "lo": 71.68, "hi": 72.15}
    ]
  },
  "resolve": {"scale": {"size": "independent"}},
  "vconcat": [
    {
      "bounds": "flush",
      "hconcat": [
        {
          "width": 325, "height": 295,
          "title": "Polygalacturonic acid",
          "data": {"name": "visc"},
          "transform": [{"filter": "datum.material === 'PGA'"}],
          "encoding": {
            "x": {"field": "point", "type": "quantitative", "title": "measurement point",
              "scale": {"domain": [-0.1, 30.4], "nice": false, "zero": false},
              "axis": {"values": [0, 10, 20, 30]}},
            "y": {"field": "value", "type": "quantitative", "title": "Viscosity η (mPa s)",
              "scale": {"type": "log", "domain": [0.55, 192], "nice": false},
              "axis": {"values": [1, 2, 5, 50, 100, 150]}}
          },
          "layer": [
            {"mark": {"type": "area", "color": "#9a9a9a", "opacity": 0.45},
              "encoding": {"y": {"field": "lo", "type": "quantitative", "title": "Viscosity η (mPa s)"}, "y2": {"field": "hi"}, "detail": {"field": "conc"}}},
            {"mark": {"type": "line", "strokeWidth": 1.8},
              "encoding": {
                "color": {"field": "conc", "type": "nominal",
                  "scale": {"domain": ["1 gL⁻¹", "2 gL⁻¹", "3 gL⁻¹", "water"], "range": ["#000000", "#7a7a7a", "#9c9c9c", "#c8c8c8"]},
                  "legend": {"orient": "none", "legendX": 34, "legendY": 17, "title": null,
                    "labelFont": "Liberation Sans", "labelFontSize": 13, "labelFontWeight": "bold", "labelColor": "#000000",
                    "symbolSize": 100, "symbolStrokeWidth": 1.5, "symbolOpacity": 0.7, "labelOffset": 48, "rowPadding": 2,
                    "encoding": {
                      "symbols": {
                        "fill": {"value": "transparent"},
                        "shape": {"value": {"expr": "datum.value === '1 gL⁻¹' ? 'M-5.5,0H5.5M-0.5,0A0.5,0.5 0 1,0 0.5,0A0.5,0.5 0 1,0 -0.5,0' : datum.value === '2 gL⁻¹' ? 'M-5.5,0H5.5M0,-0.7V0.7' : datum.value === '3 gL⁻¹' ? 'M-5.5,0H5.5M0,-0.7L0.7,0.5L-0.7,0.5Z' : 'M-5.5,0H5.5M0,-0.7L0.7,0L0,0.7L-0.7,0Z'"}}
                      }
                    }
                  }
                }
              }
            },
            {"mark": {"type": "point", "filled": false, "strokeWidth": 1.3, "opacity": 1},
              "encoding": {
                "size": {"field": "conc", "type": "nominal", "legend": null,
                  "scale": {"range": [100, 170, 170, 190]}},
                "color": {"field": "conc", "type": "nominal",
                  "legend": {"orient": "none", "legendX": 34, "legendY": 17, "title": null,
                    "labelFont": "Liberation Sans", "labelFontSize": 13, "labelFontWeight": "bold", "labelColor": "#000000",
                    "symbolSize": 100, "symbolStrokeWidth": 1.5, "symbolOpacity": 0.7, "labelOffset": 48, "rowPadding": 2,
                    "encoding": {
                      "symbols": {
                        "fill": {"value": "transparent"},
                        "shape": {"value": {"expr": "datum.value === '1 gL⁻¹' ? 'M-5.5,0H5.5M-0.5,0A0.5,0.5 0 1,0 0.5,0A0.5,0.5 0 1,0 -0.5,0' : datum.value === '2 gL⁻¹' ? 'M-5.5,0H5.5M0,-0.7V0.7' : datum.value === '3 gL⁻¹' ? 'M-5.5,0H5.5M0,-0.7L0.7,0.5L-0.7,0.5Z' : 'M-5.5,0H5.5M0,-0.7L0.7,0L0,0.7L-0.7,0Z'"}}
                      }
                    }
                  }
                },
                "shape": {"field": "conc", "type": "nominal", "legend": null,
                  "scale": {"range": ["circle", "M-1,0H1M0,-1V1", "triangle-up", "diamond"]}}
              }
            }
          ]
        },
        {
          "width": 293, "height": 295,
          "title": "Xanthan",
          "data": {"name": "visc"},
          "transform": [{"filter": "datum.material === 'Xanthan'"}],
          "encoding": {
            "x": {"field": "point", "type": "quantitative", "title": "measurement point",
              "scale": {"domain": [-0.64, 30.55], "nice": false, "zero": false},
              "axis": {"values": [0, 10, 20, 30]}},
            "y": {"field": "value", "type": "quantitative",
              "scale": {"type": "log", "domain": [0.55, 192], "nice": false}, "axis": null}
          },
          "layer": [
            {"mark": {"type": "area", "color": "#9a9a9a", "opacity": 0.35},
              "encoding": {"y": {"field": "lo", "type": "quantitative", "axis": null}, "y2": {"field": "hi"}, "detail": {"field": "conc"}}},
            {"mark": {"type": "line", "strokeWidth": 1.8},
              "encoding": {"color": {"field": "conc", "type": "nominal"}}},
            {"mark": {"type": "point", "filled": false, "strokeWidth": 1.3, "opacity": 1},
              "encoding": {
                "size": {"field": "conc", "type": "nominal", "legend": null},
                "color": {"field": "conc", "type": "nominal"},
                "shape": {"field": "conc", "type": "nominal", "legend": null}
              }}
          ]
        }
      ]
    },
    {
      "bounds": "flush",
      "hconcat": [
        {
          "width": 325, "height": 304,
          "data": {"name": "tension"},
          "transform": [{"filter": "datum.material === 'PGA'"}],
          "encoding": {
            "x": {"field": "point", "type": "quantitative", "title": "measurement point",
              "scale": {"domain": [0.55, 10.45], "nice": false, "zero": false},
              "axis": {"values": [2.5, 5, 7.5, 10], "format": ".1f"}},
            "y": {"field": "value", "type": "quantitative", "title": "Surface tension γ (mN m⁻¹)",
              "scale": {"domain": [69.82, 75.25], "nice": false, "zero": false},
              "axis": {"values": [70, 71, 72, 73, 74, 75], "labelExpr": "datum.value === 70 || datum.value === 75 ? datum.label : ''"}}
          },
          "layer": [
            {"mark": {"type": "area", "color": "#b0b0b0", "opacity": 0.45},
              "encoding": {"y": {"field": "lo", "type": "quantitative", "title": "Surface tension γ (mN m⁻¹)"}, "y2": {"field": "hi"}, "detail": {"field": "conc"}}},
            {"mark": {"type": "line", "strokeWidth": 2},
              "encoding": {"color": {"field": "conc", "type": "nominal"}}},
            {"mark": {"type": "point", "filled": false, "strokeWidth": 1.3, "opacity": 1},
              "encoding": {
                "size": {"field": "conc", "type": "nominal", "legend": null,
                  "scale": {"range": [100, 380, 290, 170]}},
                "color": {"field": "conc", "type": "nominal"},
                "shape": {"field": "conc", "type": "nominal", "legend": null}
              }}
          ]
        },
        {
          "width": 292, "height": 304,
          "data": {"name": "tension"},
          "transform": [{"filter": "datum.material === 'Xanthan'"}],
          "encoding": {
            "x": {"field": "point", "type": "quantitative", "title": "measurement point",
              "scale": {"domain": [0.55, 10.4], "nice": false, "zero": false},
              "axis": {"values": [2.5, 5, 7.5, 10], "format": ".1f"}},
            "y": {"field": "value", "type": "quantitative",
              "scale": {"domain": [69.82, 75.25], "nice": false, "zero": false}, "axis": null}
          },
          "layer": [
            {"mark": {"type": "area", "color": "#a0a0a0", "opacity": 0.45},
              "encoding": {"y": {"field": "lo", "type": "quantitative", "axis": null}, "y2": {"field": "hi"}, "detail": {"field": "conc"}}},
            {"mark": {"type": "line", "strokeWidth": 2},
              "encoding": {"color": {"field": "conc", "type": "nominal"}}},
            {"mark": {"type": "point", "filled": false, "strokeWidth": 1.3, "opacity": 1},
              "encoding": {
                "size": {"field": "conc", "type": "nominal", "legend": null},
                "color": {"field": "conc", "type": "nominal"},
                "shape": {"field": "conc", "type": "nominal", "legend": null}
              }}
          ]
        }
      ]
    }
  ]
}
